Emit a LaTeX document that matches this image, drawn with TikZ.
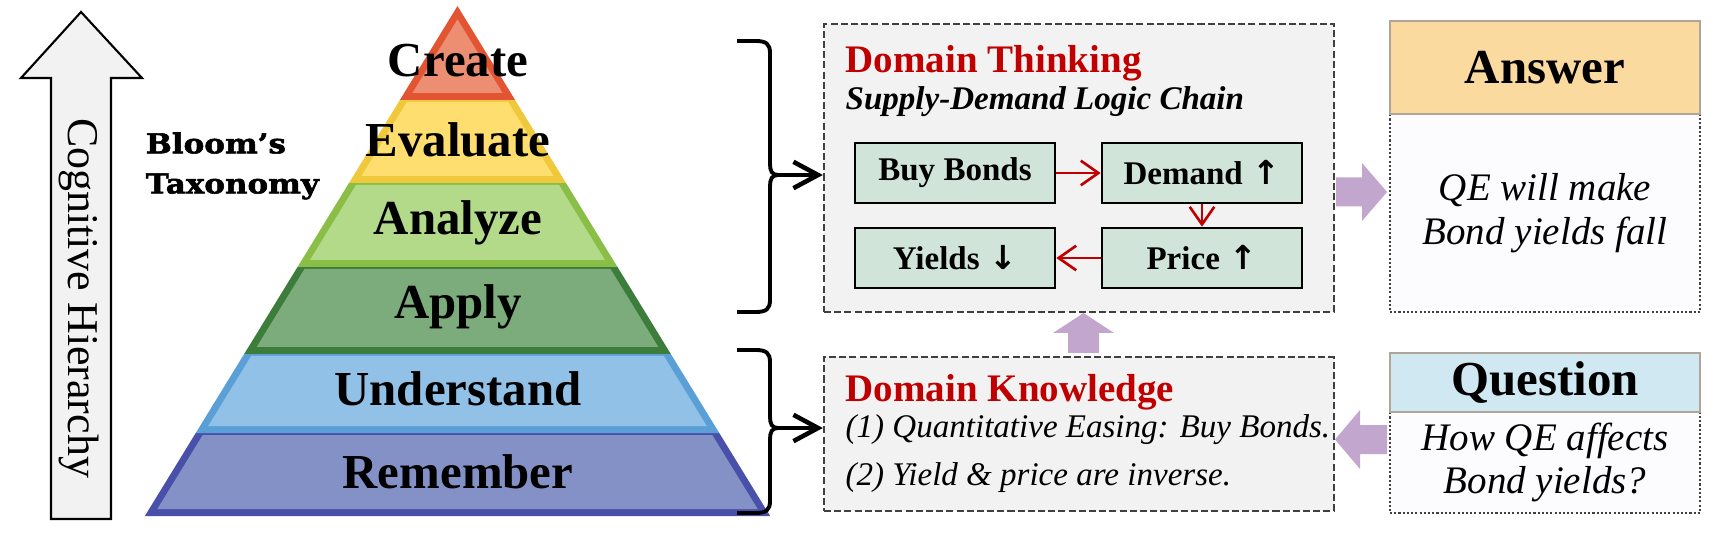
\documentclass[tikz,border=0pt]{standalone}
\usepackage{fontspec}
\setmainfont{Liberation Serif}
\newfontfamily\bloomfont[FakeStretch=1.13, FakeBold=2]{DejaVu Serif}
\newfontfamily\arrowfont{DejaVu Sans}
\usetikzlibrary{arrows.meta}

\definecolor{createline}{RGB}{226,84,50}
\definecolor{createfill}{RGB}{236,142,114}
\definecolor{evalline}{RGB}{240,200,60}
\definecolor{evalfill}{RGB}{255,222,112}
\definecolor{analine}{RGB}{138,190,70}
\definecolor{anafill}{RGB}{178,218,136}
\definecolor{applyline}{RGB}{60,125,60}
\definecolor{applyfill}{RGB}{124,172,124}
\definecolor{undline}{RGB}{90,160,215}
\definecolor{undfill}{RGB}{145,193,230}
\definecolor{remline}{RGB}{72,80,170}
\definecolor{remfill}{RGB}{132,145,198}
\definecolor{domred}{RGB}{192,0,0}
\definecolor{boxgray}{RGB}{242,242,242}
\definecolor{chainfill}{RGB}{208,228,218}
\definecolor{purp}{RGB}{195,166,205}
\definecolor{ansfill}{RGB}{251,218,160}
\definecolor{qfill}{RGB}{208,232,242}
\definecolor{headline}{RGB}{175,165,155}
\definecolor{bodyfill}{RGB}{252,252,255}

% one layer of the pyramid: top y, bottom y, border colour, fill colour
\newcommand{\pyrlayer}[4]{%
  \pgfmathsetmacro{\wa}{0.613*(#1-6)}%
  \pgfmathsetmacro{\wb}{0.613*(#2-6)}%
  \fill[#3] (457.5-\wa,#1) -- (457.5+\wa,#1) -- (457.5+\wb,#2) -- (457.5-\wb,#2) -- cycle;
  \pgfmathsetmacro{\ya}{max(#1+2,19.4)}%
  \pgfmathsetmacro{\yb}{#2-7}%
  \pgfmathsetmacro{\wa}{0.613*(\ya-6)-8.2}%
  \pgfmathsetmacro{\wb}{0.613*(\yb-6)-8.2}%
  \fill[#4] (457.5-\wa,\ya) -- (457.5+\wa,\ya) -- (457.5+\wb,\yb) -- (457.5-\wb,\yb) -- cycle;
}

\begin{document}
\begin{tikzpicture}[
    x=0.1mm, y=-0.1mm,
    level/.style={anchor=base, inner sep=0pt,
                  font=\bfseries\fontsize{13.9}{16}\selectfont},
    dombox/.style={draw=black!75, dash pattern=on 2pt off 0.9pt, line width=0.65pt,
                   fill=boxgray, minimum width=51mm, inner sep=0pt},
    title/.style={anchor=base west, inner sep=0pt, text=domred,
                  font=\bfseries\fontsize{11.1}{13}\selectfont},
    fact/.style={anchor=base west, inner sep=0pt,
                 font=\itshape\fontsize{9.4}{11}\selectfont},
    chain/.style={draw, line width=0.75pt, fill=chainfill,
                  minimum width=20mm, minimum height=6mm, inner sep=0pt,
                  font=\bfseries\fontsize{9.4}{11}\selectfont},
    redarr/.style={-{Straight Barb[length=5pt,width=7pt]}, line width=0.75pt, domred},
    brace/.style={line width=1.1pt},
    brarr/.style={-{Straight Barb[length=7pt,width=7.5pt]}, line width=1.3pt},
    header/.style={draw=headline, line width=0.7pt, minimum width=31mm,
                   inner sep=0pt, font=\bfseries\fontsize{13.9}{16}\selectfont},
    body/.style={draw=black!75, dash pattern=on 0.6pt off 0.6pt, line width=0.7pt,
                 fill=bodyfill, minimum width=31mm, inner sep=0pt, align=center,
                 font=\itshape\fontsize{11.1}{12.5}\selectfont}
  ]
  \useasboundingbox (0,0) rectangle (1734,537);

  % cognitive hierarchy arrow
  \draw[line width=0.6pt, fill=boxgray] (51,519) -- (51,78) -- (21,78) -- (81,12)
    -- (142,78) -- (111,78) -- (111,519) -- cycle;
  \node[rotate=-90, inner sep=0pt, font=\fontsize{12.5}{14}\selectfont] (cog) at (79,298)
    {Cognitive Hierarchy};
  \node[anchor=west, inner sep=0pt, align=left,
        font=\bloomfont\bfseries\fontsize{7.8}{11.4}\selectfont] (bloom) at (145,166)
    {Bloom’s\\Taxonomy};

  % pyramid
  \pyrlayer{433}{516}{remline}{remfill}
  \pyrlayer{354}{433}{undline}{undfill}
  \pyrlayer{267}{354}{applyline}{applyfill}
  \pyrlayer{183}{267}{analine}{anafill}
  \pyrlayer{100}{183}{evalline}{evalfill}
  \pyrlayer{6}{100}{createline}{createfill}

  \node[level] (create) at (458,77) {Create};
  \node[level] (evaluate) at (458,157) {Evaluate};
  \node[level] (analyze) at (458,235) {Analyze};
  \node[level] (apply) at (458,319) {Apply};
  \node[level] (understand) at (458,405) {Understand};
  \node[level] (remember) at (458,488) {Remember};

  % domain boxes
  \node[dombox, minimum height=28.8mm] (think) at (1079,168) {};
  \node[dombox, minimum height=15.4mm] (know) at (1079,434) {};

  \node[title] (thinktitle) at (845,73) {Domain Thinking};
  \node[fact, font=\bfseries\itshape\fontsize{9.4}{11}\selectfont] (chainname) at (845,110)
    {Supply-Demand Logic Chain};
  \node[chain] (buy) at (955,173) {Buy Bonds};
  \node[chain] (demand) at (1202,173) {Demand\hspace{0.3em}{\arrowfont\bfseries ↑}};
  \node[chain] (yields) at (955,258) {Yields\hspace{0.3em}{\arrowfont\bfseries ↓}};
  \node[chain] (price) at (1202,258) {Price\hspace{0.3em}{\arrowfont\bfseries ↑}};
  \draw[redarr] (buy) -- (demand);
  \draw[redarr] (demand) -- (price);
  \draw[redarr] (price) -- (yields);

  \node[title] (knowtitle) at (845,401) {Domain Knowledge};
  \node[fact] (fact1) at (845,438) {(1) Quantitative Easing: Buy Bonds.};
  \node[fact] (fact2) at (845,485) {(2) Yield \& price are inverse.};

  % braces
  \draw[brace] (737,41) -- (756,41) .. controls (766,41) and (770,44) .. (770,53)
    -- (770,164) .. controls (770,171) and (772,175) .. (778,175)
    .. controls (772,175) and (770,179) .. (770,186)
    -- (770,300) .. controls (770,309) and (766,312) .. (756,312) -- (737,312);
  \coordinate (uppertip) at (777,175);
  \draw[brarr] (uppertip) -- (uppertip -| think.west);

  \draw[brace] (737,350) -- (756,350) .. controls (766,350) and (770,353) .. (770,362)
    -- (770,417) .. controls (770,424) and (772,428) .. (778,428)
    .. controls (772,428) and (770,432) .. (770,439)
    -- (770,501) .. controls (770,510) and (766,513) .. (756,513) -- (737,513);
  \coordinate (lowertip) at (777,428);
  \draw[brarr] (lowertip) -- (lowertip -| know.west);

  % answer and question
  \node[body, minimum height=19.8mm] (ansbody) at (1545,213) {QE will make\\Bond yields fall};
  \node[header, fill=ansfill, minimum height=9.3mm] (anshead) at (1545,67.5) {Answer};
  \node[body, minimum height=10.1mm] (qbody) at (1545,462.5) {How QE affects\\Bond yields?};
  \node[header, fill=qfill, minimum height=5.9mm] (qhead) at (1545,382.5) {Question};

  % block arrows
  \fill[purp] (1336,177.5) -- (1362,177.5) -- (1362,163) -- (1387,192) -- (1362,221)
    -- (1362,206.5) -- (1336,206.5) -- cycle;
  \fill[purp] (1387,425) -- (1360,425) -- (1360,410) -- (1335,439.5) -- (1360,469)
    -- (1360,454) -- (1387,454) -- cycle;
  \fill[purp] (1068,353) -- (1068,333) -- (1053,333) -- (1083.5,313) -- (1114,333)
    -- (1099,333) -- (1099,353) -- cycle;
\end{tikzpicture}
\end{document}
